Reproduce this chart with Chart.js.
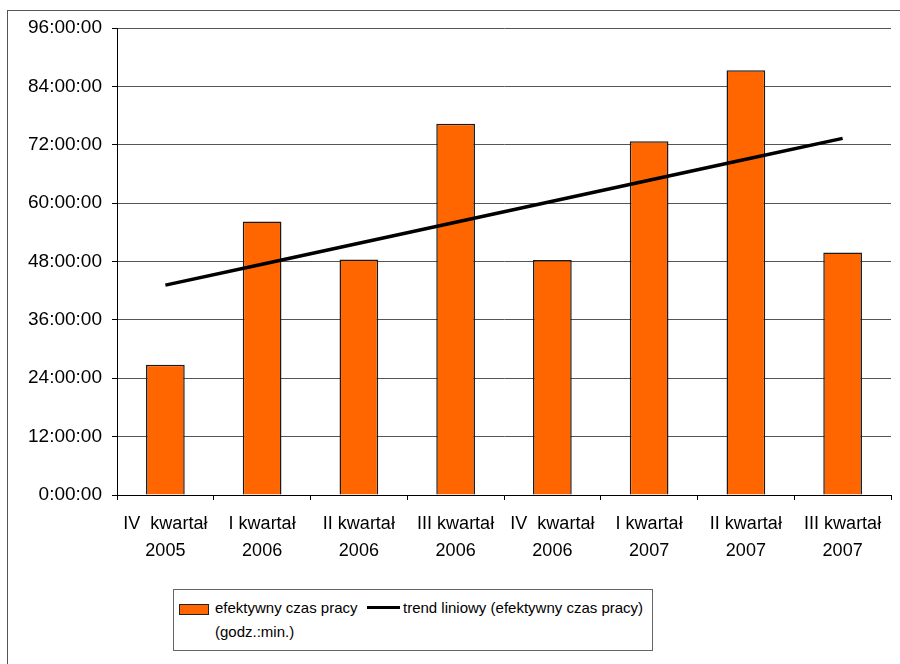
<!DOCTYPE html>
<html>
<head>
<meta charset="utf-8">
<script src="https://cdn.jsdelivr.net/npm/chart.js@4"></script>
<style>
  body { margin: 0; background: #fff; font-family: "Liberation Sans", Arial, sans-serif; }
  #wrap { position: relative; width: 900px; height: 664px; overflow: hidden; }
  #frame { position: absolute; left: 7px; top: 10px; width: 1000px; height: 1000px; border: 1px solid #555; }
  #chart { position: absolute; left: 0; top: 0; }
  #legend {
    position: absolute; left: 173px; top: 589px; width: 478px; height: 60px;
    border: 1px solid #666; background: #fff; font-size: 15px; color: #000;
  }
  .item { position: absolute; top: 6px; display: flex; align-items: flex-start; line-height: 24px; }
  .swatch { width: 28px; height: 9px; margin-top: 8px; margin-right: 6px; border: 1px solid #222; }
  .line { width: 33px; height: 3px; margin-top: 10px; margin-right: 3px; background: #000; }
</style>
</head>
<body>
<div id="wrap">
  <div id="frame"></div>
  <canvas id="chart" width="900" height="664"></canvas>
  <div id="legend"></div>
</div>
<script>
  // BEGIN: DATA
  const quarters = [
    ["IV  kwartał", "2005"],
    ["I kwartał", "2006"],
    ["II kwartał", "2006"],
    ["III kwartał", "2006"],
    ["IV  kwartał", "2006"],
    ["I kwartał", "2007"],
    ["II kwartał", "2007"],
    ["III kwartał", "2007"],
  ];
  // hours (decimal)
  const workHours = [26.75, 56.2, 48.4, 76.3, 48.3, 72.7, 87.3, 49.85];
  const yTicks = [0, 12, 24, 36, 48, 60, 72, 84, 96];
  const barLabel = "efektywny czas pracy (godz.:min.)";
  const trendLabel = "trend liniowy (efektywny czas pracy)";
  // END: DATA

  // linear trend (least squares) over the bars
  const n = workHours.length;
  const meanX = (n - 1) / 2;
  const meanY = workHours.reduce((a, b) => a + b, 0) / n;
  let sxy = 0, sxx = 0;
  workHours.forEach((y, x) => { sxy += (x - meanX) * (y - meanY); sxx += (x - meanX) ** 2; });
  const slope = sxy / sxx;
  const trend = workHours.map((_, x) => meanY + slope * (x - meanX));

  const font = { family: "'Liberation Sans', Arial, sans-serif", size: 18 };

  const chart = new Chart(document.getElementById("chart"), {
    type: "bar",
    data: {
      labels: quarters,
      datasets: [
        {
          type: "line",
          label: trendLabel,
          data: trend,
          borderColor: "#000",
          borderWidth: 3.5,
          pointRadius: 0,
          tension: 0,
          clip: false, // otherwise the clip rect gets stroked round the plot
          order: 0,
        },
        {
          label: barLabel,
          data: workHours,
          backgroundColor: "#FF6600",
          borderColor: "#1a1a1a",
          borderWidth: 1.5,
          barPercentage: 0.4,
          categoryPercentage: 1,
          order: 1,
        },
      ],
    },
    options: {
      responsive: false,
      animation: false,
      layout: { padding: { left: 0, top: 28, right: 9, bottom: 89 } },
      plugins: { legend: { display: false }, tooltip: { enabled: false } },
      scales: {
        x: {
          offset: true,
          grid: { offset: true, drawOnChartArea: false, drawTicks: true, tickLength: 5, color: "#000" },
          border: { color: "#000", width: 1 },
          ticks: { font: { ...font, lineHeight: 1.5 }, color: "#000", padding: 11, maxRotation: 0, autoSkip: false },
          afterFit: (axis) => { axis.height = 80; },
        },
        y: {
          min: 0,
          max: 96,
          afterBuildTicks: (axis) => { axis.ticks = yTicks.map((v) => ({ value: v })); },
          grid: { color: "#555", tickLength: 5, tickColor: "#000" },
          border: { color: "#000", width: 1 },
          ticks: {
            font: { ...font, size: 19 },
            color: "#000",
            padding: 10,
            callback: (v) => v + ":00:00",
          },
          afterFit: (axis) => { axis.width = 117; },
        },
      },
    },
  });

  // HTML legend built from the datasets
  const legend = document.getElementById("legend");
  const bars = chart.data.datasets[1];
  const line = chart.data.datasets[0];
  legend.innerHTML =
    '<div class="item" style="left:5px"><div class="swatch" style="background:' + bars.backgroundColor +
    '"></div><div style="width:150px">' + bars.label + '</div></div>' +
    '<div class="item" style="left:193px"><div class="line" style="background:' + line.borderColor +
    '"></div><div>' + line.label + '</div></div>';
</script>
</body>
</html>
